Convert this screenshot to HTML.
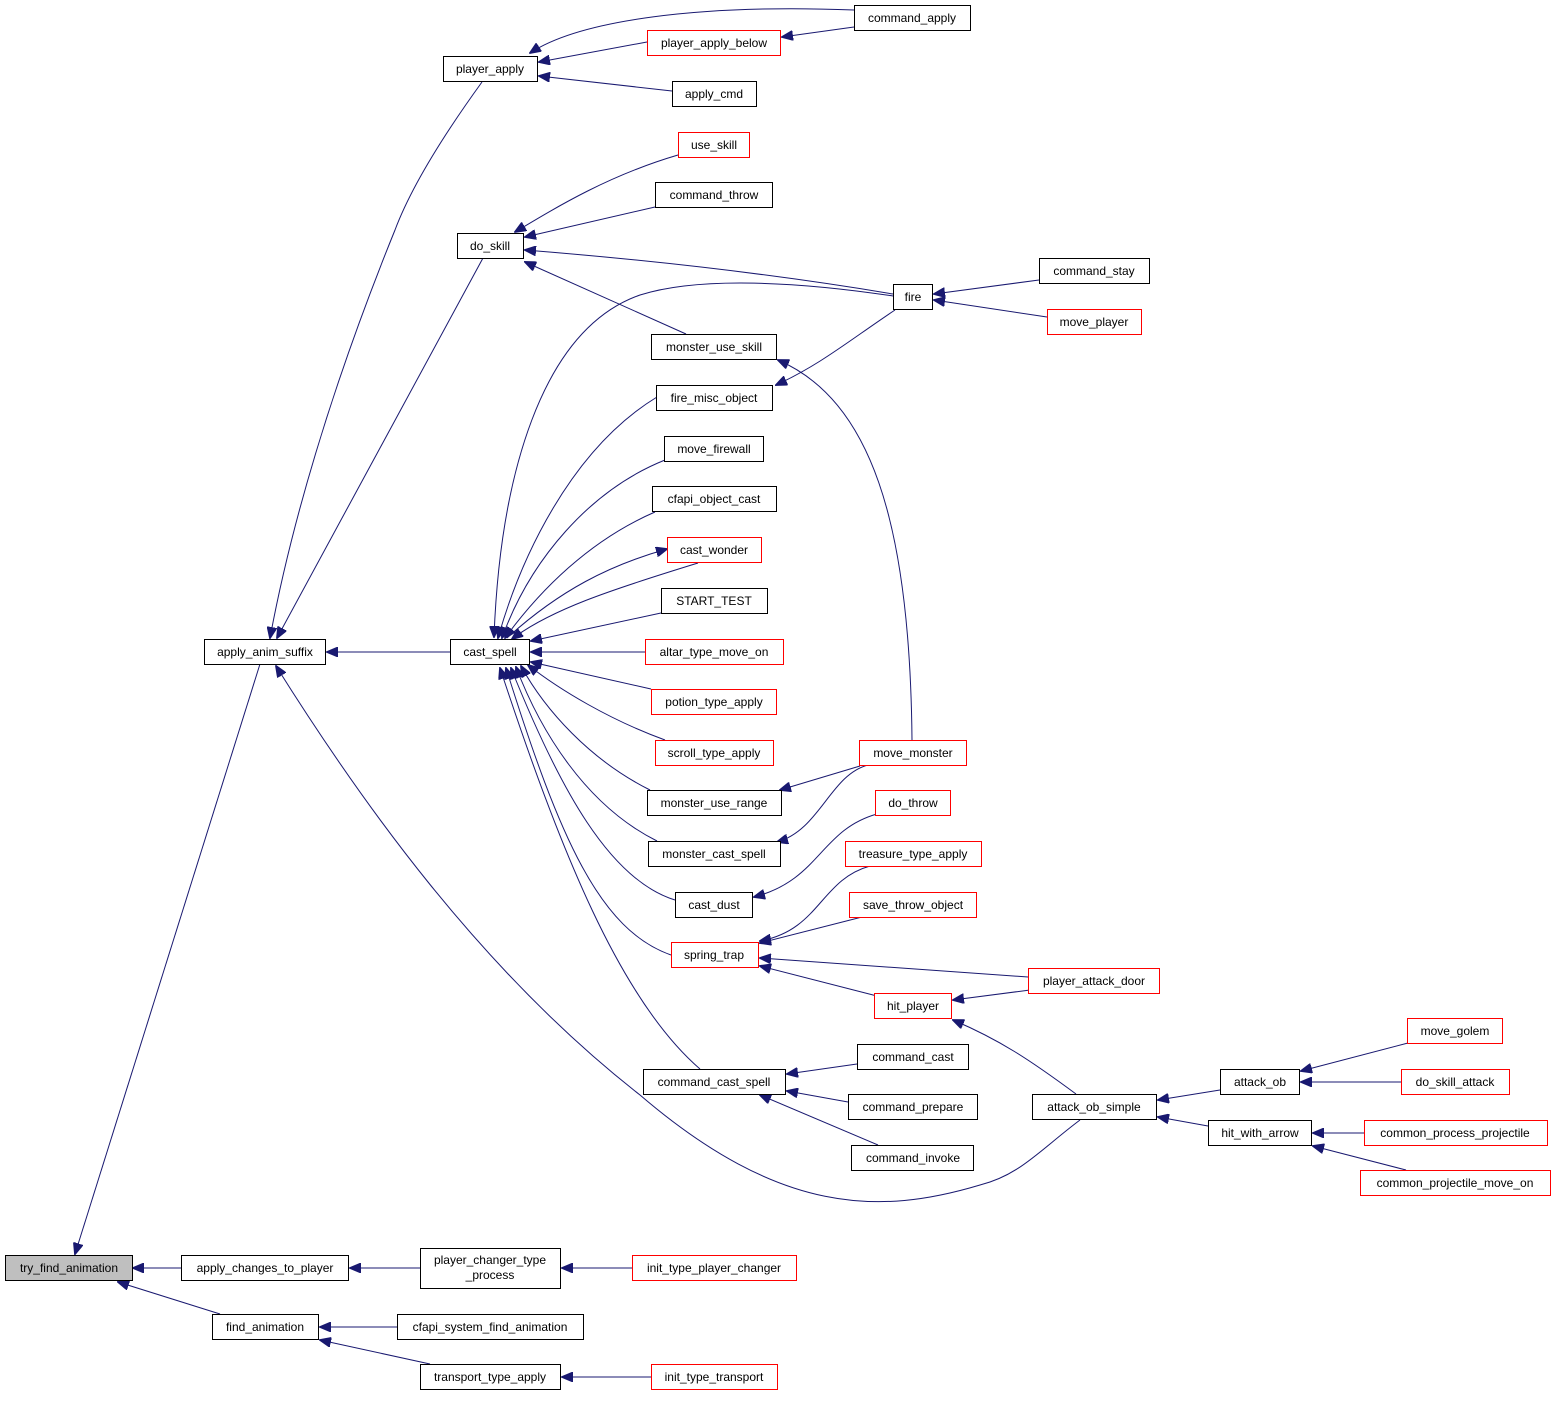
<!DOCTYPE html>
<html><head><meta charset="utf-8"><style>
html,body{margin:0;padding:0;background:#fff}
svg text{font-family:"Liberation Sans",Arial,sans-serif;font-size:12px;text-anchor:middle}
</style></head><body>
<svg width="1557" height="1396" viewBox="0 0 1557 1396" xmlns="http://www.w3.org/2000/svg">
<defs><marker id="a" markerWidth="12" markerHeight="10" refX="11" refY="5" orient="auto" markerUnits="userSpaceOnUse"><path d="M0,0 L12,5 L0,10 z" fill="#191970" stroke="#191970"/></marker></defs>
<g fill="none" stroke="#191970" stroke-width="1" marker-end="url(#a)">
<path d="M260,664 L75,1254"/>
<path d="M181,1268 L133,1268"/>
<path d="M220,1314 L118,1282"/>
<path d="M482,82 C440,140 410,190 395,230 C330,390 290,530 270,638"/>
<path d="M483,258 L277,638"/>
<path d="M450,652 L327,652"/>
<path d="M1080,1120 C1040,1150 1020,1175 980,1185 C880,1215 780,1215 640,1095 C480,970 360,800 276,666"/>
<path d="M420,1268 L350,1268"/>
<path d="M397,1327 L320,1327"/>
<path d="M430,1364 L320,1340"/>
<path d="M854,10 C700,4 580,20 530,53"/>
<path d="M647,42 L539,62"/>
<path d="M672,91 L539,76"/>
<path d="M854,27 L782,37"/>
<path d="M678,155 C610,175 560,205 515,232"/>
<path d="M655,207 L525,237"/>
<path d="M893,294 C780,275 650,260 525,250"/>
<path d="M686,334 L525,262"/>
<path d="M893,296 C800,282 700,276 640,295 C540,330 500,480 494,637"/>
<path d="M657,397 C570,450 520,560 498,638"/>
<path d="M665,460 C590,490 530,560 502,638"/>
<path d="M655,512 C590,540 540,590 505,638"/>
<path d="M507,638 C560,590 610,565 667,549"/>
<path d="M698,563 C610,590 550,610 512,639"/>
<path d="M661,613 L531,641"/>
<path d="M645,652 L531,652"/>
<path d="M651,689 L531,662"/>
<path d="M665,740 C610,720 560,690 528,665"/>
<path d="M650,790 C590,760 545,710 521,666"/>
<path d="M657,841 C585,805 540,730 516,667"/>
<path d="M675,900 C610,880 560,790 511,668"/>
<path d="M671,955 C600,930 560,840 506,668"/>
<path d="M700,1069 C620,1000 560,850 500,668"/>
<path d="M1039,280 L934,294"/>
<path d="M1047,317 L934,300"/>
<path d="M895,310 C850,340 820,365 776,385"/>
<path d="M912,740 C910,520 870,400 778,360"/>
<path d="M860,766 L780,790"/>
<path d="M868,765 C830,775 820,830 777,842"/>
<path d="M877,814 C820,830 820,880 754,897"/>
<path d="M870,866 C820,880 820,930 760,941"/>
<path d="M862,917 L760,943"/>
<path d="M1028,977 L760,958"/>
<path d="M877,996 L760,966"/>
<path d="M1030,990 L953,1000"/>
<path d="M1076,1094 C1030,1060 1000,1040 953,1020"/>
<path d="M857,1064 L787,1074"/>
<path d="M848,1102 L787,1091"/>
<path d="M878,1145 L760,1095"/>
<path d="M1220,1090 L1158,1100"/>
<path d="M1208,1126 L1158,1117"/>
<path d="M1408,1043 L1301,1071"/>
<path d="M1401,1082 L1301,1082"/>
<path d="M1364,1133 L1313,1133"/>
<path d="M1406,1170 L1313,1146"/>
<path d="M632,1268 L562,1268"/>
<path d="M651,1377 L562,1377"/>
</g>
<g stroke-width="1">
<rect x="5.5" y="1255.5" width="127" height="25" fill="#bfbfbf" stroke="#000"/><text x="69" y="1272">try_find_animation</text>
<g fill="#fff" stroke="#000">
<rect x="204.5" y="639.5" width="121" height="25"/>
<rect x="181.5" y="1255.5" width="167" height="25"/>
<rect x="212.5" y="1314.5" width="106" height="25"/>
<rect x="443.5" y="56.5" width="94" height="25"/>
<rect x="457.5" y="233.5" width="66" height="25"/>
<rect x="450.5" y="639.5" width="79" height="25"/>
<rect x="420.5" y="1248.5" width="140" height="40"/>
<rect x="397.5" y="1314.5" width="186" height="25"/>
<rect x="420.5" y="1364.5" width="140" height="25"/>
<rect x="854.5" y="5.5" width="116" height="25"/>
<rect x="672.5" y="81.5" width="84" height="25"/>
<rect x="655.5" y="182.5" width="117" height="25"/>
<rect x="893.5" y="284.5" width="39" height="25"/>
<rect x="1039.5" y="258.5" width="110" height="25"/>
<rect x="651.5" y="334.5" width="125" height="25"/>
<rect x="656.5" y="385.5" width="116" height="25"/>
<rect x="664.5" y="436.5" width="99" height="25"/>
<rect x="652.5" y="486.5" width="124" height="25"/>
<rect x="661.5" y="588.5" width="106" height="25"/>
<rect x="647.5" y="790.5" width="134" height="25"/>
<rect x="648.5" y="841.5" width="132" height="25"/>
<rect x="675.5" y="892.5" width="77" height="25"/>
<rect x="643.5" y="1069.5" width="142" height="25"/>
<rect x="857.5" y="1044.5" width="111" height="25"/>
<rect x="848.5" y="1094.5" width="129" height="25"/>
<rect x="851.5" y="1145.5" width="122" height="25"/>
<rect x="1032.5" y="1094.5" width="124" height="25"/>
<rect x="1220.5" y="1069.5" width="79" height="25"/>
<rect x="1208.5" y="1120.5" width="103" height="25"/>
</g>
<g fill="#fff" stroke="#f00">
<rect x="647.5" y="30.5" width="133" height="25"/>
<rect x="678.5" y="132.5" width="71" height="25"/>
<rect x="1047.5" y="309.5" width="94" height="25"/>
<rect x="667.5" y="537.5" width="94" height="25"/>
<rect x="645.5" y="639.5" width="138" height="25"/>
<rect x="651.5" y="689.5" width="125" height="25"/>
<rect x="655.5" y="740.5" width="118" height="25"/>
<rect x="671.5" y="942.5" width="87" height="25"/>
<rect x="859.5" y="740.5" width="107" height="25"/>
<rect x="875.5" y="790.5" width="75" height="25"/>
<rect x="845.5" y="841.5" width="136" height="25"/>
<rect x="849.5" y="892.5" width="127" height="25"/>
<rect x="874.5" y="993.5" width="77" height="25"/>
<rect x="1028.5" y="968.5" width="131" height="25"/>
<rect x="1407.5" y="1018.5" width="95" height="25"/>
<rect x="1401.5" y="1069.5" width="108" height="25"/>
<rect x="1364.5" y="1120.5" width="183" height="25"/>
<rect x="1360.5" y="1170.5" width="190" height="25"/>
<rect x="632.5" y="1255.5" width="164" height="25"/>
<rect x="651.5" y="1364.5" width="126" height="25"/>
</g>
</g>
<g fill="#000">
<text x="265" y="656">apply_anim_suffix</text>
<text x="265" y="1272">apply_changes_to_player</text>
<text x="265" y="1331">find_animation</text>
<text x="490" y="73">player_apply</text>
<text x="490" y="250">do_skill</text>
<text x="490" y="656">cast_spell</text>
<text x="490" y="1264">player_changer_type</text>
<text x="490" y="1279">_process</text>
<text x="490" y="1331">cfapi_system_find_animation</text>
<text x="490" y="1381">transport_type_apply</text>
<text x="912" y="22">command_apply</text>
<text x="714" y="47">player_apply_below</text>
<text x="714" y="98">apply_cmd</text>
<text x="714" y="149">use_skill</text>
<text x="714" y="199">command_throw</text>
<text x="913" y="301">fire</text>
<text x="1094" y="275">command_stay</text>
<text x="1094" y="326">move_player</text>
<text x="714" y="351">monster_use_skill</text>
<text x="714" y="402">fire_misc_object</text>
<text x="714" y="453">move_firewall</text>
<text x="714" y="503">cfapi_object_cast</text>
<text x="714" y="554">cast_wonder</text>
<text x="714" y="605">START_TEST</text>
<text x="714" y="656">altar_type_move_on</text>
<text x="714" y="706">potion_type_apply</text>
<text x="714" y="757">scroll_type_apply</text>
<text x="714" y="807">monster_use_range</text>
<text x="714" y="858">monster_cast_spell</text>
<text x="714" y="909">cast_dust</text>
<text x="714" y="959">spring_trap</text>
<text x="714" y="1086">command_cast_spell</text>
<text x="913" y="757">move_monster</text>
<text x="913" y="807">do_throw</text>
<text x="913" y="858">treasure_type_apply</text>
<text x="913" y="909">save_throw_object</text>
<text x="913" y="1010">hit_player</text>
<text x="1094" y="985">player_attack_door</text>
<text x="913" y="1061">command_cast</text>
<text x="913" y="1111">command_prepare</text>
<text x="913" y="1162">command_invoke</text>
<text x="1094" y="1111">attack_ob_simple</text>
<text x="1260" y="1086">attack_ob</text>
<text x="1260" y="1137">hit_with_arrow</text>
<text x="1455" y="1035">move_golem</text>
<text x="1455" y="1086">do_skill_attack</text>
<text x="1455" y="1137">common_process_projectile</text>
<text x="1455" y="1187">common_projectile_move_on</text>
<text x="714" y="1272">init_type_player_changer</text>
<text x="714" y="1381">init_type_transport</text>
</g>
</svg>
</body></html>
